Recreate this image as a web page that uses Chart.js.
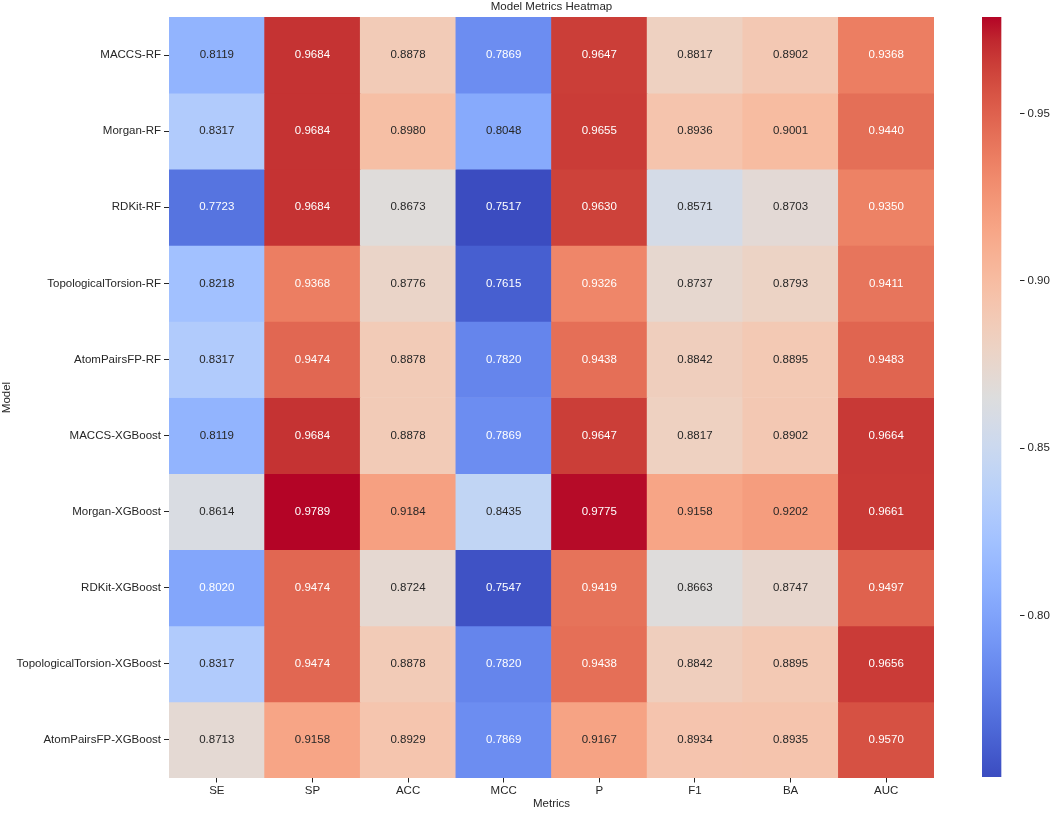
<!DOCTYPE html>
<html>
<head>
<meta charset="utf-8">
<script src="https://cdn.jsdelivr.net/npm/chart.js@4/dist/chart.umd.min.js"></script>
<style>
  html, body { margin: 0; padding: 0; background: #fff; }
  body { width: 1052px; height: 813px; position: relative; overflow: hidden; }
  #mainWrap { position: absolute; left: 0; top: 0; width: 940px; height: 813px; }
  #cbWrap { position: absolute; left: 982px; top: 0; width: 70px; height: 813px; }
</style>
</head>
<body>
<div id="mainWrap"><canvas id="main"></canvas></div>
<div id="cbWrap"><canvas id="cb"></canvas></div>
<script>
// ---- Data ----
const models = ['MACCS-RF', 'Morgan-RF', 'RDKit-RF', 'TopologicalTorsion-RF', 'AtomPairsFP-RF',
  'MACCS-XGBoost', 'Morgan-XGBoost', 'RDKit-XGBoost', 'TopologicalTorsion-XGBoost', 'AtomPairsFP-XGBoost'];
const metrics = ['SE', 'SP', 'ACC', 'MCC', 'P', 'F1', 'BA', 'AUC'];

const SE  = [0.8119, 0.8317, 0.7723, 0.8218, 0.8317, 0.8119, 0.8614, 0.8020, 0.8317, 0.8713];
const SP  = [0.9684, 0.9684, 0.9684, 0.9368, 0.9474, 0.9684, 0.9789, 0.9474, 0.9474, 0.9158];
const ACC = [0.8878, 0.8980, 0.8673, 0.8776, 0.8878, 0.8878, 0.9184, 0.8724, 0.8878, 0.8929];
const MCC = [0.7869, 0.8048, 0.7517, 0.7615, 0.7820, 0.7869, 0.8435, 0.7547, 0.7820, 0.7869];
const P   = [0.9647, 0.9655, 0.9630, 0.9326, 0.9438, 0.9647, 0.9775, 0.9419, 0.9438, 0.9167];
const F1  = [0.8817, 0.8936, 0.8571, 0.8737, 0.8842, 0.8817, 0.9158, 0.8663, 0.8842, 0.8934];
const BA  = [0.8902, 0.9001, 0.8703, 0.8793, 0.8895, 0.8902, 0.9202, 0.8747, 0.8895, 0.8935];
const AUC = [0.9368, 0.9440, 0.9350, 0.9411, 0.9483, 0.9664, 0.9661, 0.9497, 0.9656, 0.9570];

const colorbarTicks = [0.80, 0.85, 0.90, 0.95];

const columns = [SE, SP, ACC, MCC, P, F1, BA, AUC];
const allVals = columns.flat();
const vmin = Math.min(...allVals);
const vmax = Math.max(...allVals);

// ---- coolwarm colormap (Moreland) ----
const coolwarm = [
  [59,76,192],[68,90,204],[77,104,215],[87,117,225],[98,130,234],[108,142,241],[119,154,247],
  [130,165,251],[141,176,254],[152,185,255],[163,194,255],[174,201,253],[184,208,249],
  [194,213,244],[204,217,238],[213,219,230],[221,221,221],[229,216,209],[236,211,197],
  [241,204,185],[245,196,173],[247,187,160],[247,177,148],[247,166,135],[244,154,123],
  [241,141,111],[236,127,99],[229,112,88],[222,96,77],[213,80,66],[203,62,56],[192,40,47],[180,4,38]
];
function cmap(t) {
  t = Math.max(0, Math.min(1, t));
  const n = coolwarm.length - 1;
  const f = t * n;
  const i = Math.min(Math.floor(f), n - 1);
  const r = f - i;
  const a = coolwarm[i], b = coolwarm[i + 1];
  return [0, 1, 2].map(k => a[k] + (b[k] - a[k]) * r);
}
function rgbStr(c) { return `rgb(${Math.round(c[0])},${Math.round(c[1])},${Math.round(c[2])})`; }
function valueColor(v) { return cmap((v - vmin) / (vmax - vmin)); }
function luminance(c) {
  const lin = c.map(x => { x = x / 255; return x <= 0.03928 ? x / 12.92 : Math.pow((x + 0.055) / 1.055, 2.4); });
  return 0.2126 * lin[0] + 0.7152 * lin[1] + 0.0722 * lin[2];
}

const FONT = '"Liberation Sans", Arial, Helvetica, sans-serif';
const TEXT = '#262626';
Chart.defaults.font.family = FONT;
Chart.defaults.font.size = 11.5;
Chart.defaults.color = TEXT;

// ---- heatmap datasets: one per model row ----
const datasets = models.map((m, r) => ({
  label: m,
  data: metrics.map(() => [r, r + 1]),
  backgroundColor: metrics.map((_, c) => rgbStr(valueColor(columns[c][r]))),
  borderWidth: 0,
  barPercentage: 1,
  categoryPercentage: 1,
  grouped: false
}));

const annotatePlugin = {
  id: 'annotate',
  afterDatasetsDraw(chart) {
    const ctx = chart.ctx;
    ctx.save();
    ctx.font = `11.5px ${FONT}`;
    ctx.textAlign = 'center';
    ctx.textBaseline = 'middle';
    models.forEach((m, r) => {
      const meta = chart.getDatasetMeta(r);
      meta.data.forEach((el, c) => {
        const v = columns[c][r];
        const col = valueColor(v);
        ctx.fillStyle = luminance(col) > 0.408 ? TEXT : '#ffffff';
        const p = el.getCenterPoint();
        ctx.fillText(v.toFixed(4), p.x, p.y);
      });
    });
    ctx.restore();
  }
};

new Chart(document.getElementById('main'), {
  type: 'bar',
  data: { labels: metrics, datasets },
  options: {
    responsive: true,
    maintainAspectRatio: false,
    animation: false,
    layout: { padding: { left: 0, right: 6, top: 0, bottom: 0 } },
    plugins: {
      legend: { display: false },
      tooltip: { enabled: false },
      title: {
        display: true,
        text: 'Model Metrics Heatmap',
        fullSize: false,
        color: TEXT,
        font: { size: 11.5, weight: 'normal', lineHeight: 1.2 },
        padding: { top: 0, bottom: 3.2 }
      }
    },
    scales: {
      x: {
        type: 'category',
        offset: true,
        grid: { display: true, drawOnChartArea: false, drawTicks: true, tickLength: 4.5, offset: false, color: TEXT },
        border: { display: false },
        ticks: { padding: 1.5, color: TEXT, maxRotation: 0, autoSkip: false },
        title: { display: true, text: 'Metrics', color: TEXT, font: { size: 11.5, lineHeight: 1.13 }, padding: { top: 0, bottom: 2.5 } },
        afterFit(scale) { scale.height = 35; }
      },
      y: {
        type: 'linear',
        min: 0,
        max: models.length,
        reverse: true,
        grid: { display: true, drawOnChartArea: false, drawTicks: true, tickLength: 5, color: TEXT },
        border: { display: false },
        afterBuildTicks(scale) { scale.ticks = models.map((_, i) => ({ value: i + 0.5 })); },
        ticks: {
          autoSkip: false,
          padding: 3,
          color: TEXT,
          callback: (value) => models[Math.floor(value)]
        },
        title: { display: true, text: 'Model', color: TEXT, font: { size: 11.5, lineHeight: 1.13 }, padding: { top: 0, bottom: 0 } },
        afterFit(scale) { scale.width = 169; }
      }
    }
  },
  plugins: [annotatePlugin]
});

// ---- colorbar ----
new Chart(document.getElementById('cb'), {
  type: 'bar',
  data: {
    labels: [''],
    datasets: [{
      data: [[vmin, vmax]],
      borderWidth: 0,
      barPercentage: 1,
      categoryPercentage: 1,
      backgroundColor(context) {
        const chart = context.chart;
        const ys = chart.scales.y;
        if (!chart.chartArea || !ys) return 'rgb(221,221,221)';
        const y0 = ys.getPixelForValue(vmin);
        const y1 = ys.getPixelForValue(vmax);
        const g = chart.ctx.createLinearGradient(0, y0, 0, y1);
        const n = coolwarm.length - 1;
        coolwarm.forEach((c, i) => g.addColorStop(i / n, rgbStr(c)));
        return g;
      }
    }]
  },
  options: {
    responsive: true,
    maintainAspectRatio: false,
    animation: false,
    layout: { padding: { left: 0, right: 0, top: 17, bottom: 36 } },
    plugins: { legend: { display: false }, tooltip: { enabled: false } },
    scales: {
      x: { display: false, offset: false },
      y: {
        type: 'linear',
        position: 'right',
        min: vmin,
        max: vmax,
        grid: { display: true, drawOnChartArea: false, drawTicks: true, tickLength: 4.5, color: TEXT },
        border: { display: false },
        afterBuildTicks(scale) { scale.ticks = colorbarTicks.map(v => ({ value: v })); },
        ticks: { padding: 3, color: TEXT, callback: (v) => Number(v).toFixed(2) },
        afterFit(scale) { scale.width = 32; }
      }
    }
  }
});
</script>
</body>
</html>
